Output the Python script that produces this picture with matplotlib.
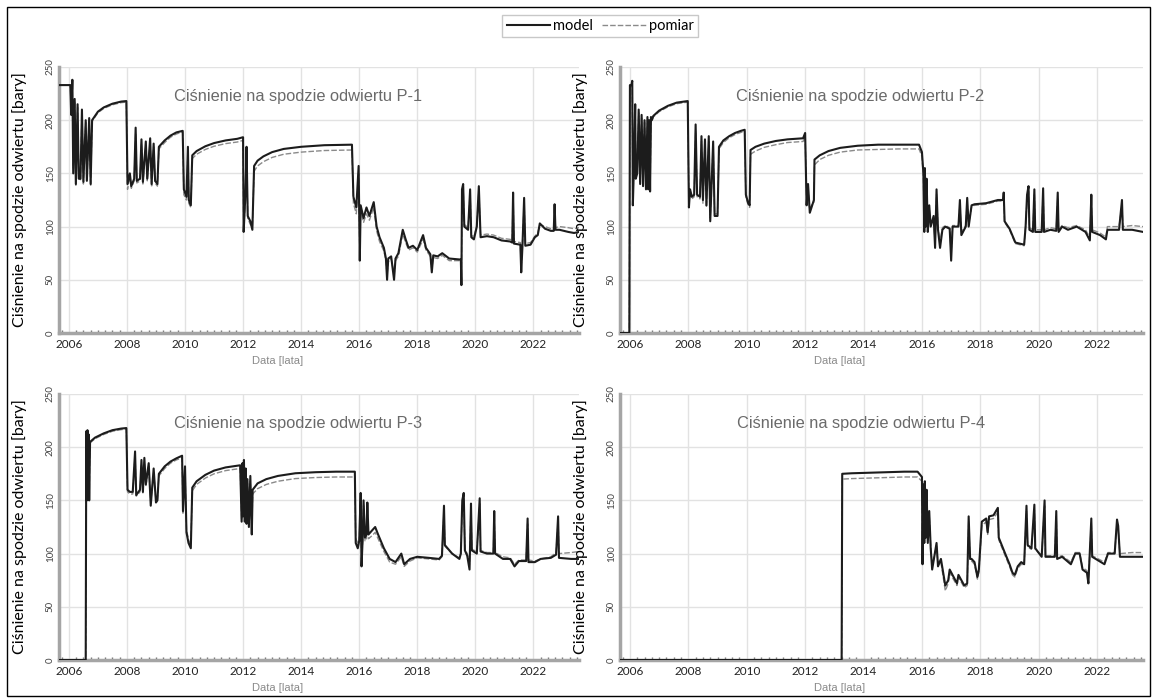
import matplotlib.pyplot as plt
from matplotlib.patches import Rectangle
from matplotlib.ticker import MultipleLocator

plt.rcParams["font.family"] = ["Lato", "DejaVu Sans"]

# --- dane (rok, ciśnienie w barach) ---

p1_lata = [
    2005.69, 2006.05, 2006.08, 2006.12, 2006.15, 2006.2, 2006.24, 2006.3, 2006.34, 2006.4,
    2006.45, 2006.5, 2006.58, 2006.62, 2006.7, 2006.75, 2006.8, 2006.9, 2007.0, 2007.2,
    2007.5, 2007.8, 2007.98,
    2008.02, 2008.1, 2008.15, 2008.25, 2008.3, 2008.34, 2008.45, 2008.5, 2008.55, 2008.65,
    2008.7, 2008.8, 2008.85, 2008.92, 2008.97, 2009.05,
    2009.1, 2009.3, 2009.5, 2009.7, 2009.92,
    2009.96, 2010.05, 2010.1, 2010.13, 2010.2,
    2010.25, 2010.4, 2010.7, 2011.0, 2011.4, 2011.8, 2012.0,
    2012.02, 2012.08, 2012.12, 2012.16, 2012.25, 2012.32,
    2012.38, 2012.5, 2012.7, 2013.0, 2013.4, 2014.0, 2014.8, 2015.75,
    2015.8, 2015.9, 2015.98, 2016.02, 2016.05, 2016.15, 2016.25, 2016.35, 2016.5, 2016.6,
    2016.7, 2016.85, 2016.92, 2016.96, 2017.0, 2017.1, 2017.2, 2017.25, 2017.35, 2017.5,
    2017.6, 2017.7, 2017.85, 2018.0, 2018.2, 2018.3, 2018.45, 2018.5, 2018.55, 2018.7,
    2018.86, 2019.1, 2019.5,
    2019.52, 2019.54, 2019.58, 2019.62, 2019.75, 2019.82, 2019.86, 2019.95, 2020.05, 2020.12,
    2020.18, 2020.4, 2020.63, 2020.9, 2021.2, 2021.27, 2021.3, 2021.33, 2021.55, 2021.58,
    2021.62, 2021.68, 2021.72, 2021.9, 2022.05, 2022.15, 2022.22, 2022.4, 2022.6, 2022.7,
    2022.73, 2022.76, 2022.9, 2023.2, 2023.4, 2023.57,
]
p1_model = [
    233, 233, 205, 238, 150, 220, 140, 215, 145, 145,
    210, 142, 200, 143, 202, 140, 200, 204, 208, 212,
    215.5, 217.5, 218,
    140, 150, 138, 145, 193, 143, 145, 182, 142, 180,
    145, 183, 140, 178, 143, 140,
    175, 181, 185.5, 188.5, 190,
    135, 128, 175, 125, 120,
    167, 171, 175.5, 178.5, 181, 182.5, 184,
    95, 130, 175, 110, 105, 97,
    157, 162, 166, 170, 173, 175, 176.5, 177,
    128, 118, 157, 68, 120, 108, 118, 110, 123, 100,
    90, 80, 70, 50, 70, 72, 50, 70, 75, 97,
    88, 80, 82, 78, 92, 80, 74, 57, 73, 72,
    75, 70, 69,
    45, 135, 140, 100, 97, 135, 90, 88, 100, 138,
    90, 91, 90, 87, 86, 85, 132, 84, 83, 57,
    80, 127, 82, 83, 90, 92, 103, 98, 96, 96,
    121, 97, 97, 95, 94, 95,
]
p1_pomiar = [
    233, 233, 208, 236, 155, 218, 138, 212, 147, 143,
    207, 140, 198, 145, 200, 138, 199, 203, 207, 211,
    214.5, 216.5, 217,
    135, 147, 136, 143, 188, 141, 143, 178, 140, 176,
    143, 180, 137, 175, 141, 138,
    173, 179, 184, 187, 189,
    130, 125, 170, 122, 118,
    164, 168, 172.5, 175.5, 178, 179.5, 181,
    98, 125, 170, 108, 102, 100,
    152, 157, 161, 165, 168, 170, 171.5, 172,
    122, 112, 150, 75, 115, 104, 112, 106, 118, 96,
    86, 77, 68, 55, 67, 70, 55, 68, 72, 93,
    85, 78, 80, 76, 88, 78, 72, 60, 71, 70,
    73, 68, 68,
    50, 130, 136, 102, 99, 130, 92, 90, 101, 133,
    92, 93, 92, 89, 88, 87, 128, 86, 85, 60,
    82, 122, 84, 85, 91, 94, 102, 100, 98, 99,
    118, 99, 100, 99, 98, 99,
]

p2_lata = [
    2005.62, 2005.98, 2006.0, 2006.05, 2006.08, 2006.1, 2006.14, 2006.18, 2006.2, 2006.25,
    2006.3, 2006.35, 2006.4, 2006.45, 2006.5, 2006.55, 2006.6, 2006.63, 2006.66, 2006.69,
    2006.72, 2006.75, 2006.8, 2007.0, 2007.3, 2007.6, 2007.98,
    2008.02, 2008.06, 2008.12, 2008.2, 2008.25, 2008.3, 2008.4, 2008.45, 2008.5, 2008.57,
    2008.62, 2008.7, 2008.75, 2008.85, 2008.9, 2009.0,
    2009.05, 2009.2, 2009.4, 2009.6, 2009.8, 2009.93,
    2009.97, 2010.05, 2010.1,
    2010.13, 2010.3, 2010.6, 2011.0, 2011.4, 2011.93,
    2012.0, 2012.05, 2012.1, 2012.16, 2012.22, 2012.3,
    2012.32, 2012.5, 2012.8, 2013.2, 2013.8, 2014.5, 2015.2, 2015.9,
    2016.0, 2016.05, 2016.08, 2016.1, 2016.13, 2016.16, 2016.2, 2016.25, 2016.3, 2016.4,
    2016.45, 2016.5, 2016.55, 2016.62, 2016.7, 2016.8, 2016.95, 2017.0, 2017.05, 2017.25,
    2017.3, 2017.35, 2017.5, 2017.55, 2017.6, 2017.7, 2017.8, 2018.2, 2018.6, 2018.78,
    2018.8, 2018.83, 2019.0, 2019.2, 2019.5, 2019.55,
    2019.6, 2019.65, 2019.68, 2019.8, 2019.85, 2019.88, 2020.1, 2020.15, 2020.18, 2020.4,
    2020.6, 2020.65, 2020.68, 2020.8, 2021.0, 2021.3, 2021.6, 2021.75, 2021.8, 2021.83,
    2022.1, 2022.3, 2022.35, 2022.75, 2022.85, 2022.88, 2023.2, 2023.57,
]
p2_model = [
    0, 0, 233, 233, 237, 120, 160, 215, 145, 150,
    210, 140, 205, 138, 200, 135, 203, 135, 200, 133,
    203, 200, 204, 209, 213.5, 216.5, 218,
    118, 135, 128, 130, 196, 130, 128, 185, 125, 182,
    120, 185, 105, 180, 110, 110,
    175, 181, 185, 188, 190, 191,
    130, 122, 120,
    172, 175, 178, 180.5, 182, 183,
    188, 120, 140, 113, 118, 125,
    163, 167, 171, 174, 176, 177, 177, 177,
    170, 150, 95, 155, 100, 145, 95, 120, 100, 110,
    80, 135, 97, 80, 97, 100, 98, 68, 100, 100,
    125, 92, 100, 127, 100, 120, 121, 122, 125, 125,
    132, 105, 98, 85, 83, 100,
    130, 138, 97, 95, 135, 95, 95, 136, 95, 97,
    96, 132, 95, 100, 97, 100, 95, 87, 130, 95,
    92, 88, 97, 97, 125, 97, 97, 95,
]
p2_pomiar = [
    0, 0, 230, 232, 235, 125, 158, 212, 148, 147,
    207, 142, 202, 140, 198, 137, 200, 137, 198, 135,
    200, 199, 203, 208, 212.5, 215.5, 217,
    122, 132, 126, 128, 190, 128, 126, 180, 122, 178,
    118, 180, 108, 176, 112, 112,
    173, 179, 183.5, 186.5, 188.5, 189.5,
    128, 120, 118,
    168, 171, 174.5, 177, 179, 180,
    185, 123, 135, 116, 120, 123,
    158, 163, 167, 170, 172, 172.5, 173, 173,
    166, 145, 98, 150, 104, 140, 98, 117, 103, 108,
    85, 130, 99, 85, 99, 101, 99, 75, 101, 101,
    120, 95, 101, 122, 101, 119, 120, 121, 124, 124,
    128, 104, 97, 84, 82, 101,
    125, 133, 99, 97, 130, 97, 97, 131, 97, 99,
    98, 127, 97, 101, 99, 101, 97, 90, 125, 97,
    94, 90, 100, 100, 120, 100, 101, 100,
]

p3_lata = [
    2005.65, 2006.58, 2006.6, 2006.62, 2006.64, 2006.66, 2006.68, 2006.7, 2006.73, 2006.9,
    2007.2, 2007.5, 2007.8, 2007.98,
    2008.02, 2008.1, 2008.2, 2008.28, 2008.32, 2008.45, 2008.5, 2008.55, 2008.6, 2008.65,
    2008.75, 2008.82, 2008.92, 2009.0, 2009.05,
    2009.1, 2009.3, 2009.5, 2009.7, 2009.9,
    2009.93, 2010.0, 2010.05, 2010.12, 2010.2,
    2010.25, 2010.4, 2010.7, 2011.0, 2011.4, 2011.9,
    2011.95, 2011.98, 2012.0, 2012.03, 2012.06, 2012.09, 2012.12, 2012.15, 2012.2, 2012.25,
    2012.3,
    2012.33, 2012.5, 2012.8, 2013.2, 2013.8, 2014.5, 2015.2, 2015.85,
    2015.88, 2015.95, 2016.0, 2016.05, 2016.08, 2016.12, 2016.15, 2016.2, 2016.25, 2016.28,
    2016.32, 2016.45, 2016.55, 2016.65, 2016.85, 2017.05, 2017.25, 2017.45, 2017.55, 2017.75,
    2018.0, 2018.4, 2018.75, 2018.85, 2018.92, 2018.95, 2019.2, 2019.45, 2019.5, 2019.55,
    2019.6, 2019.64, 2019.72, 2019.8, 2019.85, 2019.88, 2020.05, 2020.15, 2020.18, 2020.4,
    2020.62, 2020.65, 2020.68, 2020.95, 2021.2, 2021.35, 2021.5, 2021.75, 2021.8, 2021.83,
    2022.05, 2022.25, 2022.6, 2022.78, 2022.85, 2022.88, 2023.3, 2023.57,
]
p3_model = [
    0, 0, 215, 150, 216, 155, 212, 150, 205, 209,
    213, 216, 217.5, 218,
    160, 158, 158, 196, 155, 160, 188, 158, 190, 165,
    185, 145, 180, 148, 150,
    175, 182, 186.5, 189.5, 192,
    140, 182, 120, 110, 105,
    162, 168, 174, 178, 181, 183,
    130, 185, 135, 188, 130, 180, 128, 170, 125, 173,
    118,
    160, 166, 170, 173, 175.5, 176.5, 177, 177,
    110, 105, 112, 157, 88, 115, 150, 115, 118, 148,
    118, 122, 125, 118, 105, 95, 92, 100, 90, 95,
    97, 96, 95, 98, 145, 108, 100, 95, 100, 150,
    157, 103, 98, 85, 147, 103, 100, 152, 102, 100,
    100, 140, 100, 95, 95, 88, 93, 93, 133, 92,
    92, 95, 96, 99, 135, 96, 95, 95,
]
p3_pomiar = [
    0, 0, 212, 155, 213, 158, 210, 153, 204, 208,
    212, 215, 216.5, 217,
    158, 156, 156, 192, 154, 158, 184, 157, 186, 163,
    182, 148, 176, 150, 151,
    173, 180, 185, 188, 190,
    138, 178, 123, 113, 108,
    159, 165, 171, 175, 178, 180,
    133, 182, 138, 184, 133, 176, 130, 166, 127, 168,
    121,
    156, 161, 165, 168, 170.5, 171.5, 172, 172,
    114, 110, 110, 150, 95, 112, 145, 112, 113, 143,
    114, 117, 120, 114, 102, 92, 90, 97, 88, 93,
    96, 95, 94, 97, 140, 107, 100, 96, 100, 145,
    150, 104, 100, 90, 142, 104, 102, 147, 103, 101,
    101, 136, 101, 97, 96, 90, 94, 94, 128, 94,
    93, 95, 97, 101, 130, 100, 101, 102,
]

p4_lata = [
    2005.62, 2013.25, 2013.27, 2013.6, 2014.2, 2014.8, 2015.4, 2015.85, 2016.0,
    2016.02, 2016.05, 2016.08, 2016.1, 2016.13, 2016.16, 2016.2, 2016.25, 2016.3, 2016.35,
    2016.5, 2016.55, 2016.65, 2016.8, 2016.9, 2016.95, 2017.2, 2017.25, 2017.45, 2017.55,
    2017.6, 2017.65, 2017.7, 2017.8, 2017.9, 2017.95, 2018.05, 2018.2, 2018.25, 2018.3,
    2018.45, 2018.6, 2018.63, 2018.85, 2019.0, 2019.1, 2019.18, 2019.28, 2019.4, 2019.5,
    2019.58, 2019.62, 2019.75, 2019.85, 2019.88, 2020.1, 2020.2, 2020.23, 2020.55, 2020.6,
    2020.63, 2020.8, 2021.1, 2021.25, 2021.4, 2021.5, 2021.65, 2021.7, 2021.8, 2021.83,
    2022.25, 2022.37, 2022.6, 2022.68, 2022.72, 2022.78, 2023.2, 2023.57,
]
p4_model = [
    0, 0, 175, 175.5, 176, 176.5, 177, 177, 172,
    90, 165, 110, 168, 115, 160, 110, 140, 105, 85,
    110, 88, 95, 70, 75, 85, 72, 80, 70, 72,
    135, 95, 95, 92, 78, 85, 130, 133, 120, 135,
    136, 143, 115, 100, 90, 82, 80, 88, 92, 90,
    145, 108, 105, 146, 105, 97, 150, 97, 97, 140,
    95, 97, 90, 100, 100, 85, 82, 72, 133, 97,
    90, 100, 100, 132, 126, 97, 97, 97,
]
p4_pomiar = [
    0, 0, 170, 170.5, 171, 171.5, 172, 172, 168,
    95, 160, 113, 163, 118, 155, 113, 136, 108, 88,
    107, 90, 92, 65, 72, 82, 70, 78, 68, 70,
    130, 93, 93, 90, 76, 83, 126, 130, 118, 132,
    133, 139, 113, 98, 88, 80, 78, 86, 90, 89,
    140, 106, 104, 141, 104, 98, 145, 98, 98, 135,
    97, 98, 92, 101, 101, 87, 84, 75, 128, 98,
    92, 101, 101, 128, 122, 100, 101, 101,
]

odwierty = ["P-1", "P-2", "P-3", "P-4"]
lata = [p1_lata, p2_lata, p3_lata, p4_lata]
model = [p1_model, p2_model, p3_model, p4_model]
pomiar = [p1_pomiar, p2_pomiar, p3_pomiar, p4_pomiar]

W, H = 1153, 698
# left, top, width (px) for each panel
panel_px = [(59, 67, 520), (620, 67, 523), (59, 394, 520), (620, 394, 523)]
PANEL_H = 266

fig = plt.figure(figsize=(W / 100, H / 100), dpi=100)
fig.patches.append(
    Rectangle((7 / W, 2 / H), 1143 / W, 689 / H, transform=fig.transFigure,
              fill=False, edgecolor="black", linewidth=1.0)
)

handles = None
for name, t, mod, pom, (left, top, width) in zip(odwierty, lata, model, pomiar, panel_px):
    ax = fig.add_axes([left / W, 1 - (top + PANEL_H) / H, width / W, PANEL_H / H])
    hp, = ax.plot(t, pom, color="#8a8a8a", lw=1.0, ls=(0, (4, 1.5)), label="pomiar", zorder=2)
    hm, = ax.plot(t, mod, color="#1c1c1c", lw=1.5, label="model", zorder=3)
    handles = [hm, hp]

    ax.set_xlim(2005.66, 2023.57)
    ax.set_ylim(0, 250)
    ax.set_xticks(range(2006, 2023, 2))
    ax.set_yticks(range(0, 251, 50))
    ax.xaxis.set_minor_locator(MultipleLocator(0.25))
    ax.grid(True, which="major", color="#e2e2e2", lw=1.0)
    ax.set_axisbelow(True)

    for s in ("top", "right"):
        ax.spines[s].set_visible(False)
    for s in ("left", "bottom"):
        ax.spines[s].set_color("#a5a5a5")
        ax.spines[s].set_linewidth(2.5)

    ax.tick_params(axis="x", which="major", length=0, labelsize=8.5, pad=4, labelcolor="#222222")
    ax.tick_params(axis="x", which="minor", length=2, width=1, color="#777777", direction="in")
    ax.tick_params(axis="y", length=0, labelsize=7, pad=3, labelcolor="#444444")
    plt.setp(ax.get_yticklabels(), rotation=90, va="center")

    ax.set_ylabel("Ciśnienie na spodzie odwiertu [bary]", fontsize=11.5, color="black")
    ax.yaxis.set_label_coords(-0.062, 0.5)

    ax.text(0.46, 0.89, f"Ciśnienie na spodzie odwiertu {name}", transform=ax.transAxes,
            ha="center", va="center", fontsize=11.8, color="#6a6a6a",
            family=["Liberation Sans", "DejaVu Sans"])
    ax.text(0.42, -0.105, "Data [lata]", transform=ax.transAxes, ha="center", va="center",
            fontsize=8, color="#8a8a8a", family=["Liberation Sans", "DejaVu Sans"])

fig.legend(handles, ["model", "pomiar"], loc="center", bbox_to_anchor=(600 / W, 1 - 26 / H),
           ncol=2, fontsize=10.5, frameon=True, fancybox=False, edgecolor="#bbbbbb",
           handlelength=3, handletextpad=0.2, columnspacing=0.6, borderpad=0.3)

fig.savefig("out.png", dpi=100)
